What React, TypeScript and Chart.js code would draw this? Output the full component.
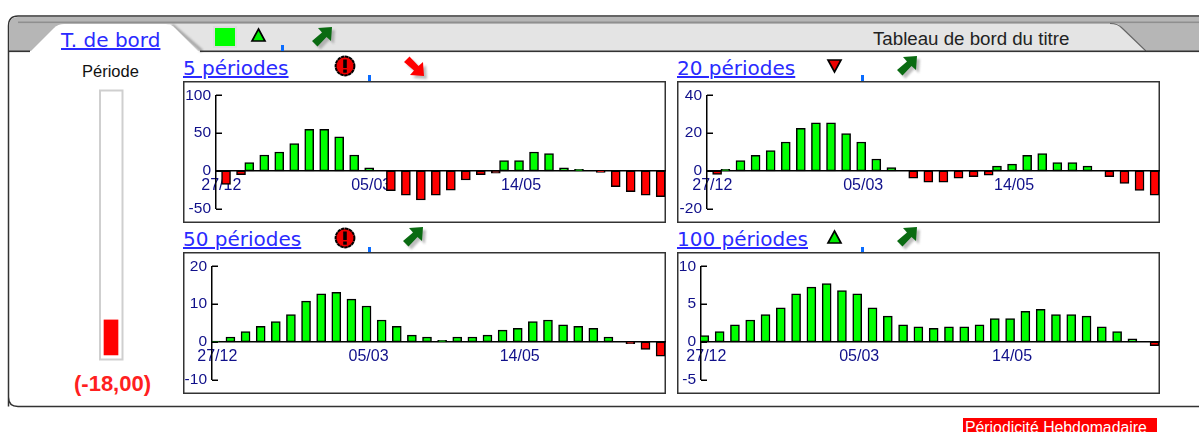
import React, { useEffect, useRef } from "react";
import { Chart, registerables } from "chart.js";

Chart.register(...registerables);

const xTickLabels = ["27/12", "05/03", "14/05"];

const values5 = [-18, -5, 11, 21, 25, 36, 55, 55, 45, 21, 4, -26, -32, -38.5, -32, -25.5, -12, -5, -3, 13.5, 13.5, 25, 23, 4, 2, -2, -21, -27.5, -32, -34];
const values20 = [-1.9, 0.8, 5.4, 8.3, 10.8, 15.3, 22.5, 25.4, 25.4, 19.8, 15.3, 6.3, 1.7, -3.9, -5.9, -5.9, -3.9, -3, -2.2, 2.5, 3.6, 8.3, 9.2, 4.4, 4.4, 2.5, -3, -6.6, -10.3, -12.9];
const values50 = [0.2, 1.3, 2.7, 4.1, 5.4, 7.2, 10.8, 12.7, 13.1, 11.3, 9.5, 5.8, 4.1, 1.8, 1.3, 0.4, 1.3, 1.3, 1.8, 3.1, 3.6, 5.4, 5.8, 4.5, 4.1, 3.6, 1.3, -0.5, -2, -3.8];
const values100 = [0.85, 1.35, 2.25, 2.9, 3.6, 4.5, 6.35, 7.25, 7.7, 6.8, 6.35, 4.5, 3.4, 2.25, 2.0, 1.8, 2.0, 2.0, 2.25, 3.1, 3.1, 4.05, 4.3, 3.6, 3.6, 3.4, 2.0, 1.35, 0.4, -0.5];

const titles = ["5 périodes", "20 périodes", "50 périodes", "100 périodes"];
const gaugeMagnitude = [18];

const NEG_SHIFT = 0.45;
const LABEL = "#10108a";
const SANS = "'Liberation Sans', Arial, sans-serif";
const LINK = "'DejaVu Sans', Verdana, sans-serif";

const inwardTicks = {
  id: "inwardTicks",
  afterDraw(chart: any) {
    const { ctx, chartArea, scales } = chart;
    ctx.save();
    ctx.strokeStyle = "#000";
    ctx.lineWidth = 1.5;
    scales.y.getTicks().forEach((t: any) => {
      const y = Math.round(scales.y.getPixelForValue(t.value)) + 0.25;
      ctx.beginPath();
      ctx.moveTo(chartArea.left, y);
      ctx.lineTo(chartArea.left + 6, y);
      ctx.stroke();
    });
    ctx.restore();
  },
};

function Panel({ left, top, axisWidth, values, yMin, yMax, step }: any) {
  const ref = useRef<HTMLCanvasElement>(null);
  useEffect(() => {
    const chart = new Chart(ref.current!, {
      type: "bar",
      data: {
        datasets: [
          {
            data: values.map((v: number, k: number) => ({ x: v < 0 ? k + NEG_SHIFT : k, y: v })),
            backgroundColor: values.map((v: number) => (v < 0 ? "#ff0000" : "#00ff00")),
            borderColor: "#000",
            borderWidth: 1.5,
            borderSkipped: false,
            barThickness: 9,
          },
        ],
      },
      plugins: [inwardTicks],
      options: {
        animation: false,
        responsive: false,
        events: [],
        layout: { padding: { top: 13, bottom: 11, right: 1, left: 0 } },
        plugins: { legend: { display: false }, tooltip: { enabled: false } },
        scales: {
          x: {
            type: "linear",
            position: { y: 0 },
            offset: false,
            bounds: "data",
            min: -0.22,
            max: 29.74,
            grid: { display: false, drawTicks: false },
            border: { color: "#000", width: 1.5 },
            afterBuildTicks: (s: any) => {
              s.ticks = xTickLabels.map((_, i) => ({ value: i * 10 }));
            },
            ticks: {
              autoSkip: false,
              maxRotation: 0,
              padding: 5,
              labelOffset: 2,
              color: LABEL,
              font: { family: SANS, size: 16 },
              callback: (v: any) => xTickLabels[Math.round(v / 10)],
            },
          },
          y: {
            type: "linear",
            min: yMin,
            max: yMax,
            grid: { display: false, drawTicks: false },
            border: { color: "#000", width: 1.5 },
            ticks: {
              stepSize: step,
              padding: 5,
              color: LABEL,
              font: { family: SANS, size: 15.5 },
            },
            afterFit: (s: any) => {
              s.width = axisWidth;
            },
          },
        },
      },
    } as any);
    return () => chart.destroy();
  }, []);
  return <canvas ref={ref} width={483} height={142} style={{ position: "absolute", left, top, width: 483, height: 142 }} />;
}

function Gauge() {
  const ref = useRef<HTMLCanvasElement>(null);
  useEffect(() => {
    const chart = new Chart(ref.current!, {
      type: "bar",
      data: {
        labels: ["Période"],
        datasets: [{ data: gaugeMagnitude, backgroundColor: "#ff0000", barThickness: 14, borderWidth: 0 }],
      },
      options: {
        animation: false,
        responsive: false,
        events: [],
        plugins: { legend: { display: false }, tooltip: { enabled: false } },
        scales: {
          x: { display: false },
          y: { display: false, min: -2.6, max: 136.2 },
        },
      },
    } as any);
    return () => chart.destroy();
  }, []);
  return <canvas ref={ref} width={24} height={270} style={{ position: "absolute", left: 99, top: 90, width: 24, height: 270 }} />;
}

const ARROW = "20,0 6,1 10,5.5 0,14 5.5,19.5 14.5,10 19,14";

function Arrow({ x, y, fill, flip }: any) {
  const t = flip ? `translate(${x} ${y + 20}) scale(1 -1)` : `translate(${x} ${y})`;
  const s = flip ? `translate(${x + 3} ${y + 23}) scale(1 -1)` : `translate(${x + 3} ${y + 3})`;
  return (
    <g>
      <polygon points={ARROW} transform={s} fill="#888" opacity={0.55} style={{ filter: "blur(1.2px)" }} />
      <polygon points={ARROW} transform={t} fill={fill} />
    </g>
  );
}

function Alert({ cx, cy }: any) {
  return (
    <g>
      <circle cx={cx} cy={cy} r={9.4} fill="#ee0000" stroke="#000" strokeWidth={2} strokeDasharray="3.5 0.5" />
      <rect x={cx - 1.8} y={cy - 6.5} width={3.6} height={8.5} fill="#000" />
      <rect x={cx - 1.8} y={cy + 3.5} width={3.6} height={3.2} fill="#000" />
    </g>
  );
}

function Tri({ x, y, fill, down }: any) {
  const pts = down
    ? `${x},${y} ${x + 13},${y} ${x + 6.5},${y + 12}`
    : `${x + 6.5},${y} ${x + 13},${y + 12} ${x},${y + 12}`;
  return <polygon points={pts} fill={fill} stroke="#000" strokeWidth={1.7} />;
}

const linkStyle: any = { fontFamily: LINK, fontSize: 20, fill: "#2a2aff", textDecoration: "underline" };

function Frame() {
  const box = (x: number, y: number) => (
    <rect x={x + 0.75} y={y + 0.75} width={481.5} height={140.5} fill="#fff" stroke="#333" strokeWidth={1.5} />
  );
  const tick = (x: number, y: number) => <rect x={x} y={y} width={3} height={6} fill="#0a6cff" />;
  return (
    <svg width={1199} height={432} style={{ position: "absolute", left: 0, top: 0 }}>
      <path d="M8.5 406.5 V26 Q8.5 16 18 16 H1210 V406.5 H18 Q8.5 406.5 8.5 397 Z" fill="#fff" stroke="#333" strokeWidth={1.5} />
      <path d="M9 51 V26 Q9 17 18 17 H1199 V51 Z" fill="#b6b6b6" />
      <rect x={18} y={21.5} width={1181} height={1.6} fill="#8f8f8f" />
      <polygon points="168,24 1118,24 1147,51 196,51" fill="#e4e4e4" />
      <path d="M1110 23.5 Q1118 23.5 1122 28 L1146 51" fill="none" stroke="#666" strokeWidth={1.2} />
      <path d="M172 25 L202 51" fill="none" stroke="#8a8a8a" strokeWidth={3} opacity={0.7} style={{ filter: "blur(1px)" }} />
      <path d="M30 52 L54 28 Q58 24 64 24 H166 Q171 24 175 28 L199 52 Z" fill="#fff" />
      <rect x={8} y={50.5} width={22} height={1.6} fill="#333" />
      <rect x={200} y={50.5} width={1000} height={1.6} fill="#333" />

      <text x={61} y={47} style={linkStyle}>T. de bord</text>
      <text x={873} y={45} style={{ fontFamily: SANS, fontSize: 18.7, fill: "#222" }}>Tableau de bord du titre</text>

      <rect x={214} y={27} width={22} height={20} fill="#00ff00" stroke="#ddd" strokeWidth={2} />
      <Tri x={252} y={29} fill="#00ee00" />
      {tick(281, 45)}
      <Arrow x={312} y={27} fill="#0a6b12" />

      <text x={82} y={77} style={{ fontFamily: SANS, fontSize: 16.5, fill: "#111" }}>Période</text>
      <rect x={100} y={90.5} width={22.5} height={269} fill="#fff" stroke="#cfcfcf" strokeWidth={2} />
      <text x={74} y={391} style={{ fontFamily: SANS, fontSize: 22, fontWeight: 700, fill: "#ff2020" }}>(-18,00)</text>

      <text x={183} y={75} style={linkStyle}>{titles[0]}</text>
      <Alert cx={345} cy={66} />
      {tick(368, 75)}
      <Arrow x={404} y={56} fill="#ff0000" flip />
      {box(183, 81)}

      <text x={677} y={75} style={linkStyle}>{titles[1]}</text>
      <Tri x={828} y={60} fill="#ee0000" down />
      {tick(861, 75)}
      <Arrow x={897} y={56} fill="#0a6b12" />
      {box(677, 81)}

      <text x={183} y={246} style={linkStyle}>{titles[2]}</text>
      <Alert cx={345} cy={238} />
      {tick(368, 247)}
      <Arrow x={403} y={227} fill="#0a6b12" />
      {box(183, 252)}

      <text x={677} y={246} style={linkStyle}>{titles[3]}</text>
      <Tri x={828} y={231} fill="#00ee00" />
      {tick(861, 247)}
      <Arrow x={897} y={227} fill="#0a6b12" />
      {box(677, 252)}

      <rect x={963} y={418} width={194} height={14} fill="#ff0000" />
      <text x={965} y={432.5} style={{ fontFamily: SANS, fontSize: 15.8, fill: "#fff" }}>Périodicité Hebdomadaire</text>
    </svg>
  );
}

export default function App() {
  return (
    <div style={{ position: "fixed", left: 0, top: 0, width: 1199, height: 432, overflow: "hidden", background: "#fff", filter: "blur(0.35px)" }}>
      <Frame />
      <Gauge />
      <Panel left={183} top={81} axisWidth={33} values={values5} yMin={-50} yMax={100} step={50} />
      <Panel left={677} top={81} axisWidth={30} values={values20} yMin={-20} yMax={40} step={20} />
      <Panel left={183} top={252} axisWidth={29} values={values50} yMin={-10} yMax={20} step={10} />
      <Panel left={677} top={252} axisWidth={24} values={values100} yMin={-5} yMax={10} step={5} />
    </div>
  );
}
